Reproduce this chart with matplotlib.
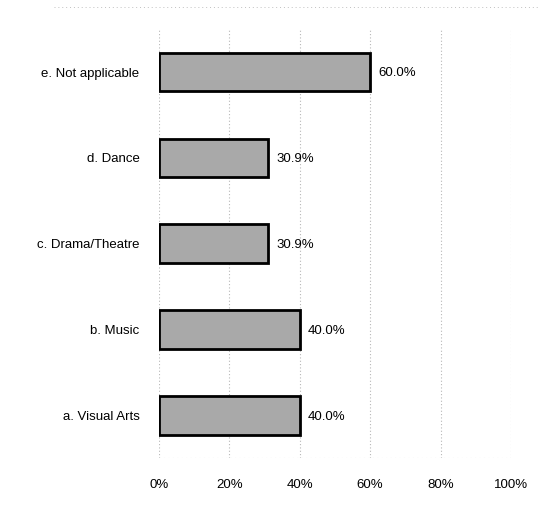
import matplotlib
matplotlib.use("Agg")
import matplotlib.pyplot as plt
from matplotlib.ticker import FuncFormatter

categories = ["a. Visual Arts", "b. Music", "c. Drama/Theatre", "d. Dance", "e. Not applicable"]
values = [40.0, 40.0, 30.9, 30.9, 60.0]
xticks = [0, 20, 40, 60, 80, 100]

plt.rcParams['font.family'] = ['Liberation Sans', 'DejaVu Sans']

fig = plt.figure(figsize=(5.39, 5.20), dpi=100)
ax = fig.add_axes([0.295, 0.119, 0.653, 0.825])

ypos = list(range(len(categories)))
ax.barh(ypos, values, height=0.45, color='#a9a9a9', edgecolor='black', linewidth=2, zorder=3)
for y, v in zip(ypos, values):
    ax.annotate(f"{v:.1f}%", xy=(v, y), xytext=(6, -1), textcoords='offset points',
                va='center', ha='left', fontsize=9.5, zorder=4)

ax.set_xlim(0, 100)
ax.set_ylim(-0.5, len(categories) - 0.5)
ax.set_yticks(ypos)
ax.set_yticklabels(categories, fontsize=9.5)
ax.set_xticks(xticks)
ax.xaxis.set_major_formatter(FuncFormatter(lambda x, p: f"{x:.0f}%"))
ax.tick_params(axis='x', labelsize=9.5, length=0, pad=15)
ax.tick_params(axis='y', length=0, pad=14)
for s in ax.spines.values():
    s.set_visible(False)
ax.xaxis.grid(True, color='#b8b8b8', linestyle=(0, (1, 2)), linewidth=0.8, zorder=0)
ax.axhline(-0.5, color='#c8c8c8', linestyle=(0, (1, 3)), linewidth=0.8, zorder=0)

fig.add_artist(plt.Line2D([0.1, 1.0], [0.986, 0.986], color='#c0c0c0', linestyle=(0, (1, 3)), linewidth=0.7))

fig.savefig("out.png", dpi=100)
